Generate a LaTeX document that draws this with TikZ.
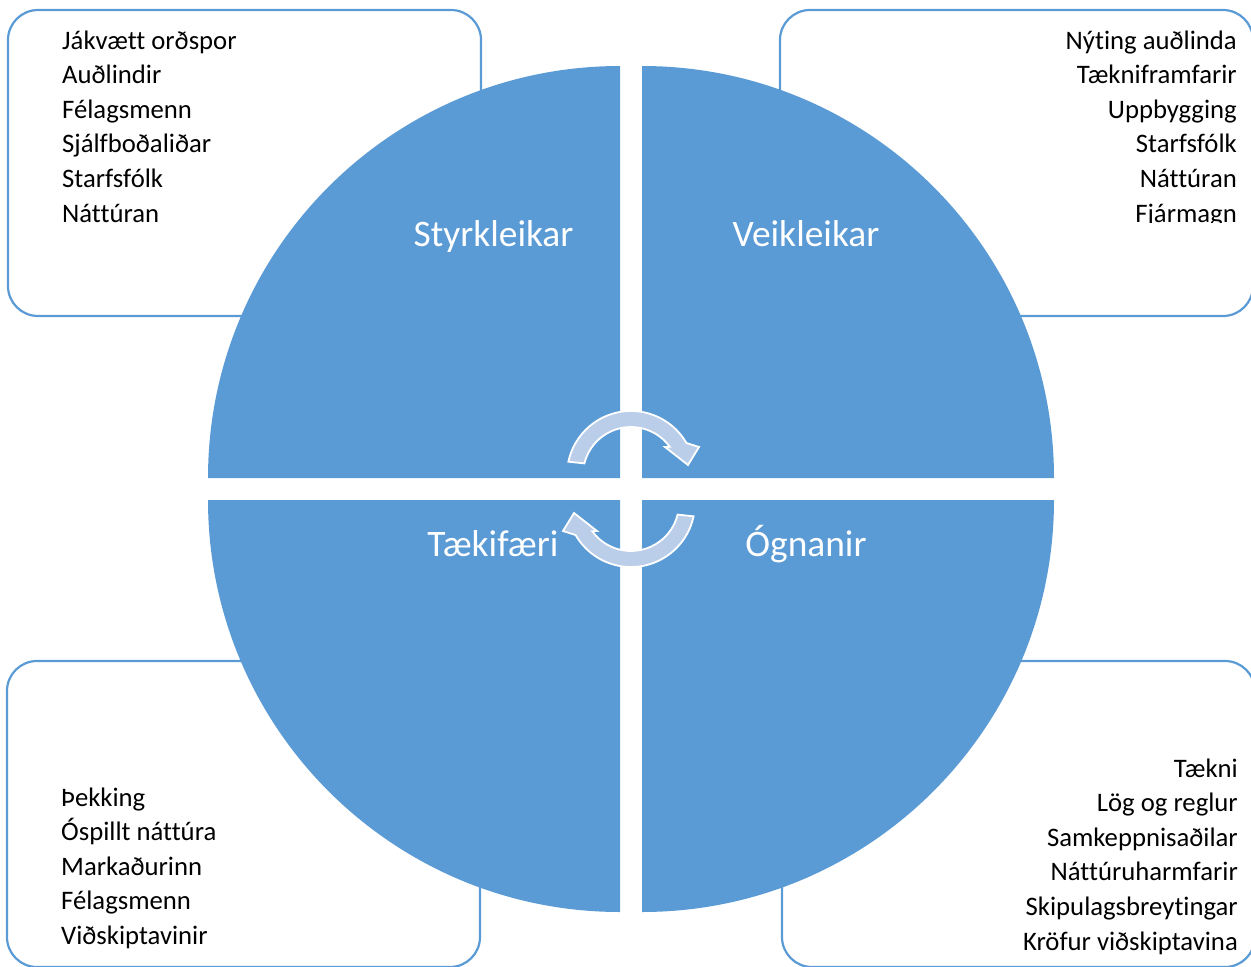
\documentclass[tikz,border=0pt]{standalone}
\usepackage{fontspec}
\setmainfont{Carlito}[Ligatures=NoCommon]
\definecolor{qblue}{HTML}{5B9BD5}
\definecolor{arrfill}{HTML}{BACDE9}
\tikzset{
  box/.style={draw=qblue, line width=2.2pt, rounded corners=30pt, fill=white, anchor=north west, minimum width=473pt, minimum height=306pt, inner sep=0pt, outer sep=0pt},
  quad/.style={fill=qblue},
  lbl/.style={text=white, anchor=base, inner sep=0pt, font=\fontsize{37.4}{45}\selectfont},
  itemL/.style={anchor=base west, inner sep=0pt, font=\fontsize{26.7}{34.6}\selectfont},
  itemR/.style={anchor=base east, inner sep=0pt, font=\fontsize{26.7}{34.6}\selectfont},
  cyc/.style={fill=arrfill, draw=white, line width=1.8pt, line join=miter}
}
\begin{document}
\begin{tikzpicture}[x=1pt,y=1pt]
\useasboundingbox (0,0) rectangle (1251,-967);
\clip (0,0) rectangle (1251,-967);
% boxes
\node[box] (boxTL) at (8,-10) {};
\node[box] (boxTR) at (780,-10) {};
\node[box] (boxBL) at (7,-661) {};
\node[box] (boxBR) at (782,-661) {};
% quadrants
\fill[quad] (620,-478) -- (208,-478) arc[start angle=180, end angle=90, radius=412] -- cycle;
\fill[quad] (642,-478) -- (642,-66) arc[start angle=90, end angle=0, radius=412] -- cycle;
\fill[quad] (620,-500) -- (620,-912) arc[start angle=270, end angle=180, radius=412] -- cycle;
\fill[quad] (642,-500) -- (1054,-500) arc[start angle=0, end angle=-90, radius=412] -- cycle;
% labels
\node[lbl] (lS) at (493.5,-246) {Styrkleikar};
\node[lbl] (lV) at (806,-246) {Veikleikar};
\node[lbl] (lT) at (493,-556) {Tækifæri};
\node[lbl] (lO) at (806,-556) {Ógnanir};
% cycle arrows
\path[cyc] (631,-475) ++(168:64) arc[start angle=168, end angle=30, radius=64]
  -- (699,-447) -- (688,-465) -- (665,-447) -- (669.8,-446.8)
  arc[start angle=36, end angle=166, radius=48] -- cycle;
\begin{scope}[rotate around={180:(631,-489)}]
\path[cyc] (631,-475) ++(168:64) arc[start angle=168, end angle=30, radius=64]
  -- (699,-447) -- (688,-465) -- (665,-447) -- (669.8,-446.8)
  arc[start angle=36, end angle=166, radius=48] -- cycle;
\end{scope}
% top-left items
\node[itemL] (tl1) at (62,-49) {Jákvætt orðspor};
\node[itemL] (tl2) at (62,-83.6) {Auðlindir};
\node[itemL] (tl3) at (62,-118.2) {Félagsmenn};
\node[itemL] (tl4) at (62,-152.8) {Sjálfboðaliðar};
\node[itemL] (tl5) at (62,-187.4) {Starfsfólk};
\node[itemL] (tl6) at (62,-222) {Náttúran};
% top-right items
\begin{scope}
\clip (780,0) rectangle (1251,-222.5);
\node[itemR] (tr1) at (1237,-49) {Nýting auðlinda};
\node[itemR] (tr2) at (1237,-83.6) {Tækniframfarir};
\node[itemR] (tr3) at (1237,-118.2) {Uppbygging};
\node[itemR] (tr4) at (1237,-152.8) {Starfsfólk};
\node[itemR] (tr5) at (1237,-187.4) {Náttúran};
\node[itemR] (tr6) at (1237,-222) {Fjármagn};
\end{scope}
% bottom-left items
\node[itemL] (bl1) at (61,-806) {Þekking};
\node[itemL] (bl2) at (61,-840.6) {Óspillt náttúra};
\node[itemL] (bl3) at (61,-875.2) {Markaðurinn};
\node[itemL] (bl4) at (61,-909.8) {Félagsmenn};
\node[itemL] (bl5) at (61,-944.4) {Viðskiptavinir};
% bottom-right items
\node[itemR] (br1) at (1238,-777) {Tækni};
\node[itemR] (br2) at (1238,-811.6) {Lög og reglur};
\node[itemR] (br3) at (1238,-846.2) {Samkeppnisaðilar};
\node[itemR] (br4) at (1238,-880.8) {Náttúruharmfarir};
\node[itemR] (br5) at (1238,-915.4) {Skipulagsbreytingar};
\node[itemR] (br6) at (1238,-950) {Kröfur viðskiptavina};
\end{tikzpicture}
\end{document}
